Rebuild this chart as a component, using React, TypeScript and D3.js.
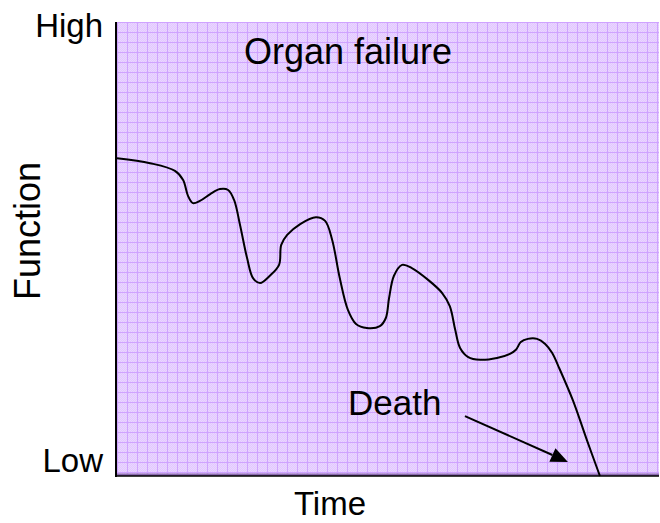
import React from "react";
import * as d3 from "d3";

// Curve of organ function over time (x: time 0–100, y: function 0 = Low, 100 = High)
const timeValues = [
  0, 6.1, 10.7, 12.2, 13.1, 14.0, 15.3, 17.2, 19.0, 20.5, 21.6, 22.7, 24.0, 25.1, 26.4,
  28.2, 29.9, 30.3, 31.4, 33.8, 36.7, 38.4, 39.7, 41.1, 42.6, 44.1, 46.1, 48.5, 49.6,
  50.2, 51.1, 52.6, 54.4, 57.4, 60.0, 61.4, 62.4, 63.3, 64.8, 67.0, 70.1, 72.5, 73.6,
  74.5, 75.8, 77.5, 79.0, 80.3, 81.5, 84.1, 86.7, 89.1,
];
const functionValues = [
  70.0, 68.9, 67.2, 65.2, 61.7, 60.1, 60.6, 62.1, 63.2, 63.0, 60.8, 55.3, 48.0, 43.6, 42.5,
  44.1, 46.5, 50.9, 53.1, 55.5, 57.0, 56.2, 52.0, 43.6, 36.6, 33.5, 32.6, 33.0, 34.8,
  39.2, 44.1, 46.5, 45.8, 43.2, 40.3, 37.4, 32.2, 28.2, 26.2, 25.6, 26.0, 26.9, 27.8,
  29.5, 30.2, 30.2, 29.1, 27.1, 24.0, 16.7, 7.9, 0,
];
const yTickValues = [0, 100];
const yTickLabels = ["Low", "High"];
const arrowFrom = [64.2, 13.2];
const arrowTo = [83.2, 3.1];

const W = 660;
const H = 523;
const left = 117;
const right = 659;
const top = 22;
const bottom = 476;

export default function App() {
  const x = d3.scaleLinear().domain([0, 100]).range([left, right]);
  const y = d3.scaleLinear().domain([0, 100]).range([bottom, top]);
  const pts: [number, number][] = timeValues.map((t, i) => [t, functionValues[i]]);
  const line = d3
    .line<[number, number]>()
    .x((d) => x(d[0]))
    .y((d) => y(d[1]))
    .curve(d3.curveCatmullRom.alpha(0.5));
  const path = line(pts) || "";

  const ax0 = x(arrowFrom[0]);
  const ay0 = y(arrowFrom[1]);
  const ax1 = x(arrowTo[0]);
  const ay1 = y(arrowTo[1]);
  const ang = Math.atan2(ay1 - ay0, ax1 - ax0);
  const hl = 17;
  const hw = 7.5;
  const bx = ax1 - hl * Math.cos(ang);
  const by = ay1 - hl * Math.sin(ang);
  const head = [
    [ax1, ay1],
    [bx + hw * Math.sin(ang), by - hw * Math.cos(ang)],
    [bx - hw * Math.sin(ang), by + hw * Math.cos(ang)],
  ]
    .map((p) => p.join(","))
    .join(" ");

  const font = "'Liberation Sans', Arial, sans-serif";
  // baseline offsets of the Low / High labels relative to their tick positions
  const tickDy = [-4, 15];

  return (
    <svg
      width={W}
      height={H}
      style={{ position: "absolute", left: 0, top: 0, background: "#fff" }}
      fontFamily={font}
    >
      <defs>
        <pattern id="dots" x={0} y={0} width={2} height={2} patternUnits="userSpaceOnUse">
          <rect width={2} height={2} fill="#EAD6FF" />
          <rect width={1} height={1} fill="#E2C8FF" />
          <rect x={1} y={1} width={1} height={1} fill="#E2C8FF" />
        </pattern>
        <pattern id="grid" x={left} y={top} width={10} height={10} patternUnits="userSpaceOnUse">
          <rect width={10} height={10} fill="url(#dots)" />
          <rect width={10} height={1} fill="#CFA3FF" />
          <rect width={1} height={10} fill="#CFA3FF" />
        </pattern>
      </defs>
      <rect x={left} y={top} width={right - left} height={bottom - top} fill="url(#grid)" />
      <rect x={left} y={bottom - 2.5} width={right - left} height={2.5} fill="#8A6AAE" />
      <line x1={left - 1} y1={top} x2={left - 1} y2={bottom + 1} stroke="#000" strokeWidth={2} />
      <line x1={left - 2} y1={bottom} x2={right} y2={bottom} stroke="#000" strokeWidth={1.5} />

      <path d={path} fill="none" stroke="#000" strokeWidth={2} strokeLinejoin="round" />

      <line x1={ax0} y1={ay0} x2={bx} y2={by} stroke="#000" strokeWidth={2} />
      <polygon points={head} fill="#000" />

      <text x={348} y={64} fontSize={36} textAnchor="middle">
        Organ failure
      </text>
      <text x={348} y={415} fontSize={35}>
        Death
      </text>

      {yTickValues.map((v, i) => (
        <text key={v} x={103} y={y(v) + tickDy[i]} fontSize={33} textAnchor="end">
          {yTickLabels[i]}
        </text>
      ))}
      <text x={330} y={515} fontSize={33} textAnchor="middle">
        Time
      </text>
      <text
        transform={`translate(40,231) rotate(-90)`}
        fontSize={36}
        textAnchor="middle"
      >
        Function
      </text>
    </svg>
  );
}
